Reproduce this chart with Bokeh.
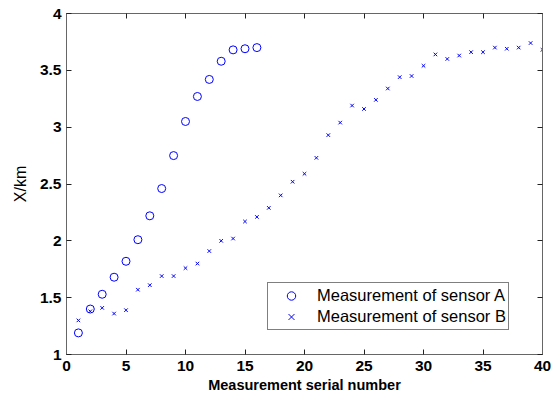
from bokeh.plotting import figure
from bokeh.models import (Range1d, FixedTicker, LinearAxis, Legend, LegendItem,
                          CustomJSTickFormatter)
from bokeh.embed import file_html
from bokeh.resources import INLINE

# ---- data ----
idx_a = list(range(1, 17))
sensor_a = [1.19, 1.40, 1.53, 1.68, 1.82, 2.01, 2.22, 2.46, 2.75, 3.05, 3.27,
            3.42, 3.58, 3.68, 3.69, 3.70]
idx_b = list(range(1, 41))
sensor_b = [1.30, 1.38, 1.41, 1.36, 1.39, 1.57, 1.61, 1.69, 1.69, 1.76,
            1.80, 1.91, 2.00, 2.02, 2.17, 2.21, 2.29, 2.40, 2.52, 2.59,
            2.73, 2.93, 3.04, 3.19, 3.16, 3.24, 3.34, 3.44, 3.45, 3.54,
            3.64, 3.60, 3.63, 3.66, 3.66, 3.70, 3.69, 3.70, 3.74, 3.68]
x_ticks = [0, 5, 10, 15, 20, 25, 30, 35, 40]
y_ticks = [1, 1.5, 2, 2.5, 3, 3.5, 4]
y_tick_labels = ["1", "1.5", "2", "2.5", "3", "3.5", "4"]
label_a = "Measurement of sensor A"
label_b = "Measurement of sensor B"
x_title = "Measurement serial number"
y_title = "X/km"

FONT = "Liberation Sans"

p = figure(width=557, height=398, output_backend="svg", toolbar_location=None,
           x_range=Range1d(0, 40), y_range=Range1d(1, 4),
           min_border_left=66, min_border_right=15, min_border_top=13,
           min_border_bottom=44, background_fill_color="white",
           border_fill_color="white")
p.grid.visible = False
p.outline_line_color = "#666666"

r_a = p.scatter(idx_a, sensor_a, marker="circle", size=8, fill_color=None,
                line_color="#0000ff", line_width=1)
r_b = p.scatter(idx_b, sensor_b, marker="x", size=5, line_color="#0000ff",
                line_width=1)

def style(ax, labels=True):
    ax.axis_line_color = "#666666"
    ax.major_tick_line_color = "#222222"
    ax.major_tick_in = 5
    ax.major_tick_out = 0
    ax.minor_tick_line_color = None
    if labels:
        ax.major_label_text_font = FONT
        ax.major_label_text_font_style = "bold"
        ax.major_label_text_font_size = "15.5px"
        ax.major_label_text_color = "black"

xa = p.xaxis[0]
xa.ticker = FixedTicker(ticks=x_ticks)
style(xa)
xa.major_label_standoff = 6
xa.axis_label = x_title
xa.axis_label_text_font = FONT
xa.axis_label_text_font_style = "bold"
xa.axis_label_text_font_size = "14.5px"
xa.axis_label_text_color = "black"
xa.axis_label_standoff = 3

ya = p.yaxis[0]
ya.ticker = FixedTicker(ticks=y_ticks)
ya.major_label_overrides = {t: l for t, l in zip(y_ticks, y_tick_labels)}
style(ya)
ya.major_label_standoff = 5
ya.axis_label = y_title
ya.axis_label_text_font = FONT
ya.axis_label_text_font_style = "normal"
ya.axis_label_text_font_size = "16px"
ya.axis_label_text_color = "black"
ya.axis_label_standoff = 8

blank = CustomJSTickFormatter(code="return ''")
top = LinearAxis(ticker=FixedTicker(ticks=x_ticks), formatter=blank)
style(top, labels=False)
top.major_label_text_font_size = "1px"
top.major_label_standoff = 0
p.add_layout(top, "above")
right = LinearAxis(ticker=FixedTicker(ticks=y_ticks), formatter=blank)
style(right, labels=False)
right.major_label_text_font_size = "1px"
right.major_label_standoff = 0
p.add_layout(right, "right")

legend = Legend(items=[LegendItem(label=label_a, renderers=[r_a]),
                       LegendItem(label=label_b, renderers=[r_b])],
                location=(201, 24))
legend.label_text_font = FONT
legend.label_text_font_size = "16.5px"
legend.label_text_color = "black"
legend.border_line_color = "black"
legend.border_line_width = 1
legend.background_fill_color = "white"
legend.background_fill_alpha = 1
legend.padding = 2
legend.margin = 0
legend.spacing = 0
legend.glyph_width = 42
legend.glyph_height = 21
legend.label_height = 21
legend.label_standoff = 5
p.add_layout(legend, "center")

open("out.html", "w").write(file_html(p, INLINE))
